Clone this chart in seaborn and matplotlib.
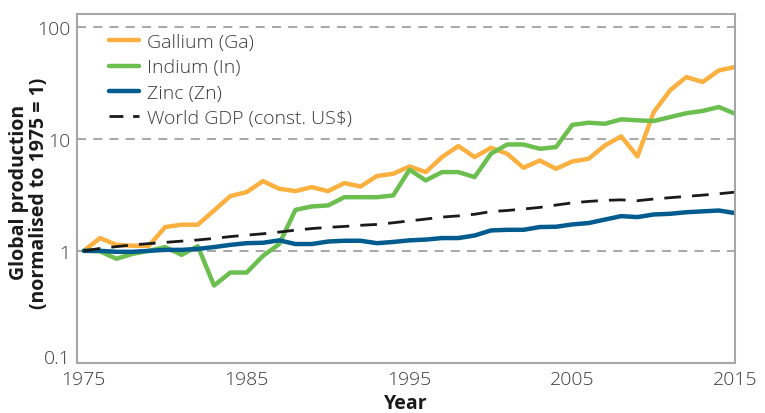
import matplotlib
matplotlib.use("Agg")
import matplotlib.pyplot as plt
import matplotlib.ticker as mticker
import numpy as np
import pandas as pd
import seaborn as sns

years = list(range(1975, 2016))

gallium = [1.00, 1.30, 1.13, 1.11, 1.11, 1.63, 1.71, 1.71, 2.29, 3.08,
           3.34, 4.19, 3.58, 3.41, 3.70, 3.41, 4.02, 3.75, 4.65, 4.87,
           5.66, 5.04, 6.86, 8.61, 6.86, 8.30, 7.35, 5.51, 6.40, 5.40,
           6.27, 6.63, 8.71, 10.5, 6.95, 17.3, 27.0, 35.5, 32.1, 40.7,
           43.7]

indium = [1.00, 0.99, 0.85, 0.94, 1.00, 1.08, 0.92, 1.10, 0.49, 0.64,
          0.64, 0.90, 1.15, 2.32, 2.49, 2.54, 3.01, 3.01, 3.01, 3.12,
          5.29, 4.25, 5.04, 5.04, 4.55, 7.35, 8.89, 8.89, 8.14, 8.43,
          13.3, 13.9, 13.6, 14.9, 14.6, 14.4, 15.6, 16.9, 17.7, 19.2,
          16.7]

zinc = [1.00, 1.00, 0.98, 0.98, 1.00, 1.02, 1.02, 1.04, 1.08, 1.13,
        1.17, 1.18, 1.24, 1.15, 1.15, 1.21, 1.23, 1.23, 1.17, 1.20,
        1.24, 1.26, 1.30, 1.30, 1.37, 1.52, 1.54, 1.54, 1.63, 1.64,
        1.72, 1.77, 1.90, 2.04, 2.00, 2.11, 2.14, 2.21, 2.25, 2.29,
        2.17]

world_gdp = [1.00, 1.05, 1.09, 1.13, 1.16, 1.19, 1.22, 1.25, 1.29, 1.34,
             1.38, 1.42, 1.47, 1.53, 1.58, 1.62, 1.65, 1.69, 1.72, 1.78,
             1.85, 1.92, 2.00, 2.05, 2.12, 2.24, 2.29, 2.36, 2.44, 2.56,
             2.68, 2.76, 2.82, 2.85, 2.80, 2.90, 2.98, 3.06, 3.14, 3.23,
             3.34]

series_labels = ["Gallium (Ga)", "Indium (In)", "Zinc (Zn)", "World GDP (const. US$)"]
series_colors = ["#fbb040", "#6cbf4f", "#005b8e", "#1a1a1a"]

df = pd.DataFrame({
    "Year": years * 4,
    "Value": gallium + indium + zinc + world_gdp,
    "Series": np.repeat(series_labels, len(years)),
})

sns.set_style("white")
plt.rcParams["font.family"] = ["Open Sans", "DejaVu Sans"]

fig, ax = plt.subplots(figsize=(7.65, 4.14), dpi=100)
fig.subplots_adjust(left=0.101, right=0.961, top=0.964, bottom=0.121)

for label, color in zip(series_labels, series_colors):
    sub = df[df["Series"] == label]
    if label.startswith("World"):
        sns.lineplot(data=sub, x="Year", y="Value", ax=ax, color=color,
                     linewidth=2.0, label=label)
        ax.lines[-1].set_dashes([6, 4])
    else:
        sns.lineplot(data=sub, x="Year", y="Value", ax=ax, color=color,
                     linewidth=3.2, label=label)

ax.set_yscale("log")
ax.set_ylim(0.1, 130)
ax.set_xlim(1974.6, 2015)
ax.set_xticks([1975, 1985, 1995, 2005, 2015])
ax.set_yticks([0.1, 1, 10, 100])
ax.yaxis.set_major_formatter(mticker.FuncFormatter(lambda v, p: f"{v:g}"))
ax.yaxis.set_minor_locator(mticker.LogLocator(base=10, subs=np.arange(2, 10)))
ax.yaxis.set_minor_formatter(mticker.NullFormatter())

for y in [1, 10, 100]:
    ax.axhline(y, color="#a0a0a0", linestyle=(0, (5, 4)), linewidth=1.3, zorder=0)

for s in ax.spines.values():
    s.set_color("#a6a6a6")
    s.set_linewidth(1.5)

ax.tick_params(axis="both", which="major", direction="in", length=7, width=1.2,
               color="#a6a6a6", labelsize=14, labelcolor="#3a3a3a")
ax.tick_params(axis="y", which="minor", direction="in", length=6, width=1.0,
               color="#a6a6a6")
ax.tick_params(axis="y", which="major", pad=5)
ax.tick_params(axis="x", which="major", pad=5)
for t in ax.get_xticklabels() + ax.get_yticklabels():
    t.set_fontweight("light")
# the lowest y label sits on the bottom spine, as in the original
ax.get_yticklabels()[0].set_verticalalignment("baseline")

ax.set_xlabel("Year", fontsize=14, fontweight="bold", color="#1a1a1a", labelpad=4)
ax.set_ylabel("Global production\n(normalised to 1975 = 1)", fontsize=14,
              fontweight="bold", color="#1a1a1a", linespacing=1.0)
ax.yaxis.set_label_coords(-0.043, 0.49)

leg = ax.legend(loc="upper left", frameon=False, fontsize=14, handlelength=1.55,
                handletextpad=0.4, labelspacing=0.37, bbox_to_anchor=(0.022, 0.995))
for t in leg.get_texts():
    t.set_color("#3a3a3a")
    t.set_fontweight("light")
leg.get_lines()[3].set_dashes([5, 3.5])

plt.savefig("out.png", dpi=100)
